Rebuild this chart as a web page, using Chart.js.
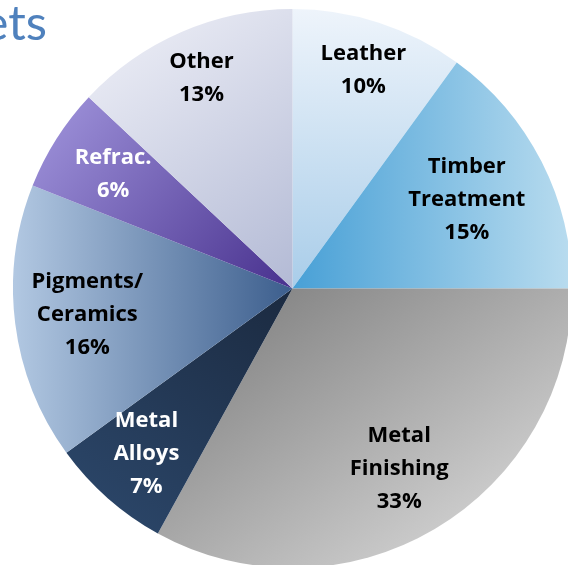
<!DOCTYPE html>
<html>
<head>
<meta charset="utf-8">
<script src="https://cdn.jsdelivr.net/npm/chart.js@4/dist/chart.umd.min.js"></script>
<style>
    html, body { margin: 0; padding: 0; background: #fff; overflow: hidden; width: 568px; height: 565px; }
    #title {
        position: absolute; right: calc(100% - 47px); top: -3px;
        font-family: Lato, "Open Sans", sans-serif; font-size: 49px; line-height: 1;
        color: #4f81bd; white-space: nowrap;
    }
    #wrap { position: absolute; left: 13px; top: 9px; width: 559px; height: 559px; }
</style>
</head>
<body>
<div id="title">Markets</div>
<div id="wrap"><canvas id="pieChart"></canvas></div>
<script>
const labels = [
    ['Leather'],
    ['Timber', 'Treatment'],
    ['Metal', 'Finishing'],
    ['Metal', 'Alloys'],
    ['Pigments/', 'Ceramics'],
    ['Refrac.'],
    ['Other']
];
const shares = [10, 15, 33, 7, 16, 6, 13];

// label text colour and how far out (fraction of radius) each label sits
const textColors = ['#000', '#000', '#000', '#fff', '#000', '#fff', '#000'];
const labelRadius = [0.82, 0.70, 0.75, 0.79, 0.74, 0.76, 0.82];

// gradient per slice: [x0, y0, x1, y1] in radius units from the centre, then stops
const gradients = [
    {line: [0, -1, 0, 0], stops: ['#eef4fb', '#a9cde9']},
    {line: [0, 0, 1, 0], stops: ['#48a0d6', '#b9dcef']},
    {line: [-0.1, 0, 0.6, 1], stops: ['#858585', '#d4d4d4']},
    {line: [0, 0, -0.6, 0.8], stops: ['#1b2a40', '#2a4466']},
    {line: [-1, 0, 0, 0], stops: ['#b2c8e2', '#3c5e8d']},
    {line: [-0.85, -0.7, 0, 0], stops: ['#9e92da', '#48318e']},
    {line: [-0.7, -1, 0, 0], stops: ['#f0f1f8', '#b3bad5']}
];

function sliceFill(context) {
    const chart = context.chart;
    const area = chart.chartArea;
    if (!area) return '#ccc';
    const cx = (area.left + area.right) / 2;
    const cy = (area.top + area.bottom) / 2;
    const r = Math.min(area.right - area.left, area.bottom - area.top) / 2;
    const g = gradients[context.dataIndex];
    const grad = chart.ctx.createLinearGradient(
        cx + g.line[0] * r, cy + g.line[1] * r, cx + g.line[2] * r, cy + g.line[3] * r);
    grad.addColorStop(0, g.stops[0]);
    grad.addColorStop(1, g.stops[1]);
    return grad;
}

const sliceLabels = {
    id: 'sliceLabels',
    afterDatasetsDraw(chart) {
        const ctx = chart.ctx;
        const meta = chart.getDatasetMeta(0);
        const data = chart.data.datasets[0].data;
        const total = data.reduce((a, b) => a + b, 0);
        ctx.save();
        ctx.font = 'bold 22px "Open Sans", Lato, sans-serif';
        ctx.textAlign = 'center';
        ctx.textBaseline = 'middle';
        meta.data.forEach((arc, i) => {
            const p = arc.getProps(['x', 'y', 'startAngle', 'endAngle', 'outerRadius'], true);
            const mid = (p.startAngle + p.endAngle) / 2;
            const rr = p.outerRadius * labelRadius[i];
            const x = p.x + Math.cos(mid) * rr;
            const y = p.y + Math.sin(mid) * rr;
            const lines = chart.data.labels[i].concat([Math.round(data[i] / total * 100) + '%']);
            const lh = 33;
            ctx.fillStyle = textColors[i];
            lines.forEach((t, k) => {
                ctx.fillText(t, x, y + (k - (lines.length - 1) / 2) * lh);
            });
        });
        ctx.restore();
    }
};

document.addEventListener('DOMContentLoaded', () => {
    const ctx = document.getElementById('pieChart').getContext('2d');
    new Chart(ctx, {
        type: 'pie',
        data: {
            labels: labels,
            datasets: [{
                data: shares,
                backgroundColor: sliceFill,
                borderWidth: 0
            }]
        },
        options: {
            responsive: true,
            maintainAspectRatio: false,
            animation: false,
            layout: { padding: 0 },
            plugins: {
                legend: { display: false },
                tooltip: { enabled: false }
            }
        },
        plugins: [sliceLabels]
    });
});
</script>
</body>
</html>
